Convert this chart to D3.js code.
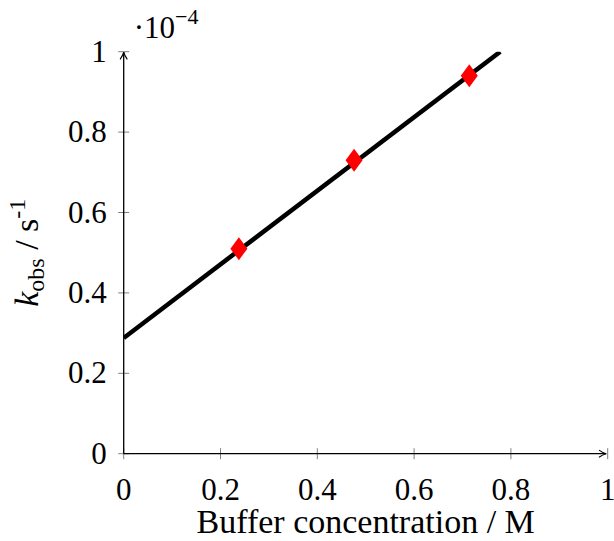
<!DOCTYPE html>
<html>
<head>
<meta charset="utf-8">
<script src="https://cdn.jsdelivr.net/npm/d3@7"></script>
<style>
  body { margin: 0; background: #fff; }
</style>
</head>
<body>
<svg id="chart" width="614" height="541"></svg>
<script>
// measured points (x in M, y in 1e-4 s^-1)
const concX = [0.238, 0.476, 0.714];
const kobsY = [0.51, 0.73, 0.94];
// fitted line endpoints
const fitX = [0, 0.778];
const fitY = [0.288, 1.0];
const xTicks = [0, 0.2, 0.4, 0.6, 0.8, 1];
const yTicks = [0, 0.2, 0.4, 0.6, 0.8, 1];

const width = 614, height = 541;
const margin = {top: 51.7, right: 6.3, bottom: 87.3, left: 123.7};
const serif = '"Liberation Serif"';

const svg = d3.select("#chart");

const x = d3.scaleLinear().domain([0, 1]).range([margin.left, width - margin.right]);
const y = d3.scaleLinear().domain([0, 1]).range([height - margin.bottom, margin.top]);

const fs = 31;     // tick labels
const fsLab = 34;  // axis titles

// ticks crossing the axis lines
svg.append("g")
    .attr("stroke", "#808080")
    .attr("stroke-width", 1)
  .selectAll("line")
  .data(xTicks)
  .join("line")
    .attr("x1", d => x(d)).attr("x2", d => x(d))
    .attr("y1", y(0) - 5.5).attr("y2", y(0) + 5.5);

svg.append("g")
    .attr("stroke", "#808080")
    .attr("stroke-width", 1)
  .selectAll("line")
  .data(yTicks)
  .join("line")
    .attr("y1", d => y(d)).attr("y2", d => y(d))
    .attr("x1", x(0) - 5.5).attr("x2", x(0) + 5.5);

// axis lines with arrows
const defs = svg.append("defs");
defs.append("marker")
    .attr("id", "arrow")
    .attr("viewBox", "0 0 10 10")
    .attr("refX", 9).attr("refY", 5)
    .attr("markerWidth", 9).attr("markerHeight", 9)
    .attr("markerUnits", "userSpaceOnUse")
    .attr("orient", "auto")
  .append("path")
    .attr("d", "M1,1 Q5,4 9,5 Q5,6 1,9")
    .attr("fill", "none")
    .attr("stroke", "#000")
    .attr("stroke-width", 1.3);

svg.append("line")
    .attr("x1", x(0)).attr("x2", x(1) - 1.5)
    .attr("y1", y(0)).attr("y2", y(0))
    .attr("stroke", "#000").attr("stroke-width", 1.3)
    .attr("marker-end", "url(#arrow)");

svg.append("line")
    .attr("x1", x(0)).attr("x2", x(0))
    .attr("y1", y(0)).attr("y2", y(1) + 0.5)
    .attr("stroke", "#000").attr("stroke-width", 1.3)
    .attr("marker-end", "url(#arrow)");

// tick labels
const fmt = d => d === 0 ? "0" : d === 1 ? "1" : d3.format(".1f")(d);

svg.append("g")
  .selectAll("text")
  .data(xTicks)
  .join("text")
    .style("font-family", serif)
    .attr("x", d => x(d))
    .attr("y", y(0) + 46)
    .attr("text-anchor", "middle")
    .attr("font-size", fs)
    .text(fmt);

svg.append("g")
  .selectAll("text")
  .data(yTicks)
  .join("text")
    .style("font-family", serif)
    .attr("x", x(0) - 17)
    .attr("y", d => y(d) + 10)
    .attr("text-anchor", "end")
    .attr("font-size", fs)
    .text(fmt);

// scale factor label
const sc = svg.append("text")
    .style("font-family", serif)
    .attr("x", x(0) + 10)
    .attr("y", 38)
    .attr("font-size", fs);
sc.append("tspan").text("·10");
sc.append("tspan").attr("font-size", 22).attr("dy", -14).text("−4");

// axis titles
svg.append("text")
    .style("font-family", serif)
    .attr("x", (x(0) + x(1)) / 2)
    .attr("y", 533)
    .attr("text-anchor", "middle")
    .attr("font-size", fsLab)
    .text("Buffer concentration / M");

const yl = svg.append("text")
    .style("font-family", serif)
    .attr("transform", `translate(38,${(y(0) + y(1)) / 2}) rotate(-90)`)
    .attr("text-anchor", "middle")
    .attr("font-size", fsLab);
yl.append("tspan").attr("font-style", "italic").text("k");
yl.append("tspan").attr("font-size", 24).attr("dy", 6).text("obs");
yl.append("tspan").attr("dy", -6).text(" / s");
yl.append("tspan").attr("font-size", 24).attr("dy", -13).text("-1");

// fitted line, clipped to plot area
defs.append("clipPath").attr("id", "clip")
  .append("rect")
    .attr("x", x(0)).attr("y", y(1))
    .attr("width", x(1) - x(0)).attr("height", y(0) - y(1));

const line = d3.line().x(d => x(d[0])).y(d => y(d[1]));
svg.append("path")
    .attr("clip-path", "url(#clip)")
    .attr("d", line(fitX.map((v, i) => [v, fitY[i]])))
    .attr("fill", "none")
    .attr("stroke", "#000")
    .attr("stroke-width", 4.5);

// diamond markers
svg.append("g")
    .attr("fill", "#ff0000")
  .selectAll("path")
  .data(concX.map((v, i) => [v, kobsY[i]]))
  .join("path")
    .attr("d", d => {
      const cx = x(d[0]), cy = y(d[1]);
      return `M${cx},${cy - 11.5}L${cx + 8.5},${cy}L${cx},${cy + 11.5}L${cx - 8.5},${cy}Z`;
    });
</script>
</body>
</html>
